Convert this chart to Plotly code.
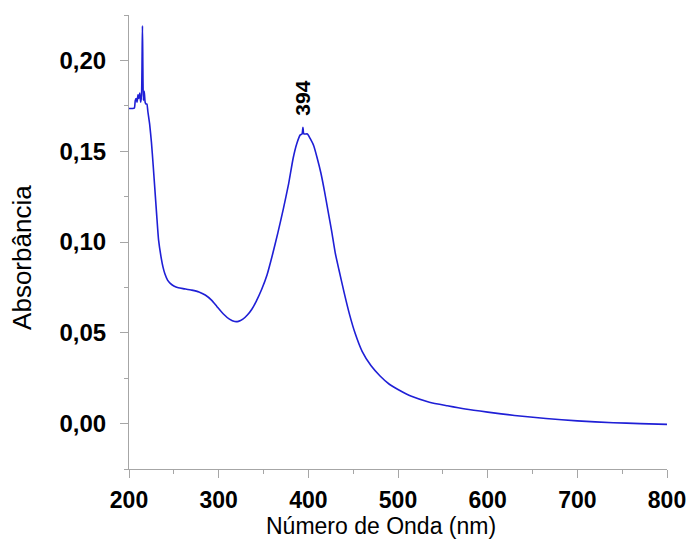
import plotly.graph_objects as go

# UV-Vis absorption spectrum
wavelength_nm = [
    200, 204, 206, 207, 208, 209, 210, 211, 212, 213, 214, 215, 216, 217, 218,
    219, 220, 221, 223, 225, 227, 229, 231, 233, 236, 238, 240, 243, 246, 250,
    255, 262, 270, 278, 285, 292, 298, 305, 312, 318, 322, 327, 332, 337, 342,
    348, 354, 360, 366, 372, 378, 383, 387, 391, 393, 394, 395, 399, 402, 406,
    410, 414, 418, 422, 426, 430, 434, 440, 446, 452, 460, 470, 480, 490, 500,
    515, 535, 555, 575, 600, 630, 665, 700, 740, 770, 800,
]
absorbance = [
    0.1735, 0.1735, 0.1738, 0.178, 0.179, 0.177, 0.181, 0.179, 0.182, 0.177,
    0.181, 0.219, 0.178, 0.183, 0.177, 0.176, 0.176, 0.172, 0.165, 0.155,
    0.142, 0.128, 0.114, 0.101, 0.091, 0.086, 0.0825, 0.079, 0.0772, 0.0758,
    0.0748, 0.0742, 0.0735, 0.0725, 0.0708, 0.068, 0.0645, 0.0605, 0.0575,
    0.0562, 0.0563, 0.0575, 0.0598, 0.063, 0.0675, 0.074, 0.082, 0.093, 0.105,
    0.118, 0.132, 0.146, 0.154, 0.159, 0.1595, 0.1632, 0.1595, 0.1595, 0.157,
    0.153, 0.146, 0.138, 0.128, 0.117, 0.106, 0.094, 0.085, 0.072, 0.060,
    0.050, 0.0398, 0.0318, 0.0262, 0.0218, 0.0188, 0.015, 0.0118, 0.0098,
    0.008, 0.0063, 0.0045, 0.0028, 0.0015, 0.0005, 0.0, -0.0004,
]

peak_nm = 394
peak_label = "394"

x_ticks = [200, 300, 400, 500, 600, 700, 800]
y_ticks = [0.00, 0.05, 0.10, 0.15, 0.20]

FONT = "Liberation Sans, Arial, sans-serif"
AXIS_GREY = "#a6a6a6"

fig = go.Figure()
fig.add_trace(go.Scatter(
    x=wavelength_nm, y=absorbance, mode="lines",
    line=dict(color="#1f1fd6", width=1.6, shape="spline", smoothing=0.5),
    showlegend=False, hoverinfo="x+y",
))

peak_y = absorbance[wavelength_nm.index(peak_nm)]
annotations = [
    dict(x=peak_nm, y=peak_y, xref="x", yref="y",
         text=peak_label, textangle=-90, showarrow=False,
         yanchor="bottom", yshift=10,
         font=dict(family=FONT, size=21, color="black", weight="bold")),
    dict(text="Absorbância", xref="paper", yref="paper", x=-0.198, y=0.466,
         textangle=-90, showarrow=False, xanchor="center", yanchor="middle",
         font=dict(family=FONT, size=26, color="black")),
    dict(text="Número de Onda (nm)", xref="paper", yref="paper", x=0.468, y=-0.126,
         showarrow=False, xanchor="center", yanchor="middle",
         font=dict(family=FONT, size=23, color="black")),
]

fig.update_layout(
    width=689, height=541,
    margin=dict(l=129, r=22, t=15, b=72),
    paper_bgcolor="white", plot_bgcolor="white",
    separators=",.",
    font=dict(family=FONT, color="black"),
    annotations=annotations,
)

fig.update_xaxes(
    range=[200, 800], tickvals=x_ticks, automargin=False,
    showline=True, linecolor=AXIS_GREY, linewidth=1,
    ticks="outside", ticklen=8, tickcolor=AXIS_GREY,
    minor=dict(dtick=50, ticks="outside", ticklen=4, tickcolor=AXIS_GREY),
    showgrid=False, zeroline=False,
    ticklabelstandoff=2,
    tickfont=dict(family=FONT, size=23, color="black", weight="bold"),
)
fig.update_yaxes(
    range=[-0.025, 0.225], tickvals=y_ticks, tickformat=".2f", automargin=False,
    showline=True, linecolor=AXIS_GREY, linewidth=1,
    ticks="outside", ticklen=8, tickcolor=AXIS_GREY,
    minor=dict(dtick=0.025, tick0=0, ticks="outside", ticklen=4, tickcolor=AXIS_GREY),
    showgrid=False, zeroline=False,
    ticklabelstandoff=9,
    tickfont=dict(family=FONT, size=24, color="black", weight="bold"),
)

fig.write_html("out.html")
